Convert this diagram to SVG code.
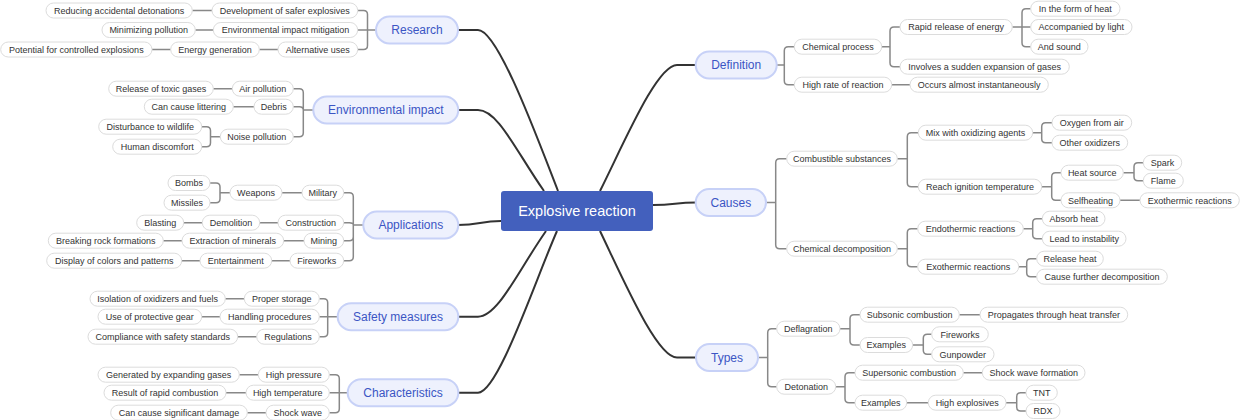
<svg xmlns="http://www.w3.org/2000/svg" width="1240" height="420" viewBox="0 0 1240 420">
<style>
.n rect{fill:#fff;stroke:#dcdcdc;stroke-width:1}
.n text{font-family:"Liberation Sans",Arial,sans-serif;font-size:9px;fill:#333;text-anchor:middle}
.m rect{fill:#eef1fd;stroke:#c7d1f7;stroke-width:2}
.m text{font-family:"Liberation Sans",Arial,sans-serif;font-size:12px;fill:#3b55c4;text-anchor:middle}
.c rect{fill:#4360bd}
.c text{font-family:"Liberation Sans",Arial,sans-serif;font-size:14.5px;fill:#fff;text-anchor:middle}
.main{fill:none;stroke:#333;stroke-width:2}
.sub{fill:none;stroke:#888;stroke-width:1.5}
</style>
<g id="connectors">
<path class="main" d="M458,30 H478 C498,30 538,140 558,191"/>
<path class="main" d="M458,110 H478 C498,110 516,151 544,191"/>
<path class="main" d="M458,225 C480,225 480,221 501,221"/>
<path class="main" d="M458,316.7 H478 C498,316.7 518,271 546,231"/>
<path class="main" d="M458,392.7 H478 C498,392.7 535,281 557,231"/>
<path class="main" d="M696,65 H677 C657,65 625,141 600,191"/>
<path class="main" d="M653,205 C675,205 675,202.5 696,202.5"/>
<path class="main" d="M600,231 C624,281 657,357.5 677,357.5 H696"/>
<path class="sub" d="M376,30 H357.7 M367.5,30 V14.5 Q367.5,10.5 363.5,10.5 H357.7 M367.5,30 V45.5 Q367.5,49.5 363.5,49.5 H357.7 M192.3,10.5 H212 M195.3,30 H213.3 M259.3,49.5 H278 M152,49.5 H170.7"/>
<path class="sub" d="M313.3,110 H303.3 V92.7 Q303.3,88.7 299.3,88.7 H293.3 M303.3,110 Q303.3,106.7 299.3,106.7 H293.3 M303.3,110 V132.7 Q303.3,136.7 299.3,136.7 H293.3 M220.3,136.7 H210.5 M210.5,136.7 V130.7 Q210.5,126.7 206.5,126.7 H201.7 M210.5,136.7 V142.7 Q210.5,146.7 206.5,146.7 H201.7 M213.3,88.7 H232.3 M233.3,106.7 H254"/>
<path class="sub" d="M363.3,225 H353.3 V196.7 Q353.3,192.7 349.3,192.7 H343.7 M353.3,225 Q353.3,222.7 349.3,222.7 H343.7 M353.3,225 V236.7 Q353.3,240.7 349.3,240.7 H343.7 M353.3,225 V256.7 Q353.3,260.7 349.3,260.7 H343.7 M230,192.7 H220 V187 Q220,183 216,183 H210 M220,192.7 V198.7 Q220,202.7 216,202.7 H210 M282,192.7 H302 M259.7,222.7 H278 M183.7,222.7 H202.3 M283.7,240.7 H304 M163.3,240.7 H182 M271.7,260.7 H290 M181.7,260.7 H200"/>
<path class="sub" d="M337.7,316.7 H319.3 M327.7,316.7 V302.7 Q327.7,298.7 323.7,298.7 H319.3 M327.7,316.7 V332.7 Q327.7,336.7 323.7,336.7 H319.3 M225.3,298.7 H244.3 M201.7,316.7 H220 M237.7,336.7 H256.7"/>
<path class="sub" d="M347.7,392.7 H329.3 M339.3,392.7 V378.7 Q339.3,374.7 335.3,374.7 H329.3 M339.3,392.7 V408.7 Q339.3,412.7 335.3,412.7 H329.3 M239.3,374.7 H258.3 M226,392.7 H246 M247.3,412.7 H266"/>
<path class="sub" d="M776.7,65 H784.3 V50.7 Q784.3,46.7 788.3,46.7 H794.3 M784.3,65 V80.7 Q784.3,84.7 788.3,84.7 H794.3 M881.7,46.7 H890 V31 Q890,27 894,27 H900 M890,46.7 V62.7 Q890,66.7 894,66.7 H900 M1012.3,27 H1030.7 M1022,27 V12.7 Q1022,8.7 1026,8.7 H1030.7 M1022,27 V42.7 Q1022,46.7 1026,46.7 H1030.7 M891.7,84.7 H910"/>
<path class="sub" d="M766,202.5 H775.7 V162.7 Q775.7,158.7 779.7,158.7 H786.7 M775.7,202.5 V244.7 Q775.7,248.7 779.7,248.7 H786.7 M897.3,158.7 H907.3 V136.7 Q907.3,132.7 911.3,132.7 H918.3 M907.3,158.7 V182.7 Q907.3,186.7 911.3,186.7 H918.3 M1032.7,132.7 H1041.7 V126.7 Q1041.7,122.7 1045.7,122.7 H1052 M1041.7,132.7 V138.7 Q1041.7,142.7 1045.7,142.7 H1052 M1041.7,186.7 H1051.7 V176.7 Q1051.7,172.7 1055.7,172.7 H1061 M1051.7,186.7 V196.3 Q1051.7,200.3 1055.7,200.3 H1061 M1123.3,172.7 H1134 V166.7 Q1134,162.7 1138,162.7 H1143.3 M1134,172.7 V176.7 Q1134,180.7 1138,180.7 H1143.3 M1120,200.3 H1140 M897.3,248.7 H907.3 V232.7 Q907.3,228.7 911.3,228.7 H917.7 M907.3,248.7 V262.7 Q907.3,266.7 911.3,266.7 H917.7 M1023.3,228.7 H1032.7 V222.7 Q1032.7,218.7 1036.7,218.7 H1042.3 M1032.7,228.7 V234.7 Q1032.7,238.7 1036.7,238.7 H1042.3 M1018.7,266.7 H1026.7 V262.7 Q1026.7,258.7 1030.7,258.7 H1036.7 M1026.7,266.7 V272.7 Q1026.7,276.7 1030.7,276.7 H1036.7"/>
<path class="sub" d="M758,357.5 H767.7 V332.7 Q767.7,328.7 771.7,328.7 H776.7 M767.7,357.5 V382.7 Q767.7,386.7 771.7,386.7 H776.7 M840,328.7 H850 V318.7 Q850,314.7 854,314.7 H860 M850,328.7 V341 Q850,345 854,345 H860 M959.3,314.7 H980 M912.7,345 H923.3 V338.3 Q923.3,334.3 927.3,334.3 H931.7 M923.3,345 V350.3 Q923.3,354.3 927.3,354.3 H931.7 M835.7,386.7 H845 V376.7 Q845,372.7 849,372.7 H855 M845,386.7 V398.7 Q845,402.7 849,402.7 H855 M963.3,372.7 H982.3 M906.7,402.7 H928.3 M1006,402.7 H1016.7 V396.7 Q1016.7,392.7 1020.7,392.7 H1026 M1016.7,402.7 V407 Q1016.7,411 1020.7,411 H1026"/>
</g>
<g id="center" class="c"><rect x="501" y="191" width="152" height="40" rx="3"/><text x="577" y="216">Explosive reaction</text></g>
<g id="research" class="m"><rect x="376" y="16.5" width="82" height="27" rx="13.5"/><text x="417" y="34.2">Research</text></g>
<g id="env" class="m"><rect x="313.3" y="96.5" width="145" height="27" rx="13.5"/><text x="385.8" y="114.2">Environmental impact</text></g>
<g id="applications" class="m"><rect x="363.3" y="211.5" width="95" height="27" rx="13.5"/><text x="410.8" y="229.2">Applications</text></g>
<g id="safety" class="m"><rect x="337.7" y="303.2" width="120.6" height="27" rx="13.5"/><text x="398" y="320.9">Safety measures</text></g>
<g id="characteristics" class="m"><rect x="347.7" y="379.2" width="110.6" height="27" rx="13.5"/><text x="403" y="396.9">Characteristics</text></g>
<g id="definition" class="m"><rect x="695.7" y="51.5" width="81" height="27" rx="13.5"/><text x="736.2" y="69.2">Definition</text></g>
<g id="causes" class="m"><rect x="695.7" y="189" width="70.3" height="27" rx="13.5"/><text x="730.85" y="206.7">Causes</text></g>
<g id="types" class="m"><rect x="696" y="344" width="62" height="27" rx="13.5"/><text x="727" y="361.7">Types</text></g>
<g id="r1" class="n"><rect x="212" y="3" width="145.7" height="15" rx="7.5"/><text x="284.85" y="13.7">Development of safer explosives</text></g>
<g id="r1a" class="n"><rect x="46" y="3" width="146.3" height="15" rx="7.5"/><text x="119.15" y="13.7">Reducing accidental detonations</text></g>
<g id="r2" class="n"><rect x="213.3" y="22.5" width="144.4" height="15" rx="7.5"/><text x="285.5" y="33.2">Environmental impact mitigation</text></g>
<g id="r2a" class="n"><rect x="102" y="22.5" width="93.3" height="15" rx="7.5"/><text x="148.65" y="33.2">Minimizing pollution</text></g>
<g id="r3" class="n"><rect x="278" y="42" width="79.7" height="15" rx="7.5"/><text x="317.85" y="52.7">Alternative uses</text></g>
<g id="r3a" class="n"><rect x="170.7" y="42" width="88.6" height="15" rx="7.5"/><text x="215" y="52.7">Energy generation</text></g>
<g id="r3b" class="n"><rect x="0.7" y="42" width="151.3" height="15" rx="7.5"/><text x="76.35" y="52.7">Potential for controlled explosions</text></g>
<g id="e1" class="n"><rect x="232.3" y="81.2" width="61" height="15" rx="7.5"/><text x="262.8" y="91.9">Air pollution</text></g>
<g id="e1a" class="n"><rect x="108.7" y="81.2" width="104.6" height="15" rx="7.5"/><text x="161" y="91.9">Release of toxic gases</text></g>
<g id="e2" class="n"><rect x="254" y="99.2" width="39.3" height="15" rx="7.5"/><text x="273.65" y="109.9">Debris</text></g>
<g id="e2a" class="n"><rect x="144.3" y="99.2" width="89" height="15" rx="7.5"/><text x="188.8" y="109.9">Can cause littering</text></g>
<g id="e3" class="n"><rect x="220.3" y="129.2" width="73" height="15" rx="7.5"/><text x="256.8" y="139.9">Noise pollution</text></g>
<g id="e3a" class="n"><rect x="98.7" y="119.2" width="103" height="15" rx="7.5"/><text x="150.2" y="129.9">Disturbance to wildlife</text></g>
<g id="e3b" class="n"><rect x="112.7" y="139.2" width="89" height="15" rx="7.5"/><text x="157.2" y="149.9">Human discomfort</text></g>
<g id="a1" class="n"><rect x="302" y="185.2" width="41.7" height="15" rx="7.5"/><text x="322.85" y="195.9">Military</text></g>
<g id="a1a" class="n"><rect x="230" y="185.2" width="52" height="15" rx="7.5"/><text x="256" y="195.9">Weapons</text></g>
<g id="a1b" class="n"><rect x="168" y="175.5" width="42" height="15" rx="7.5"/><text x="189" y="186.2">Bombs</text></g>
<g id="a1c" class="n"><rect x="164" y="195.2" width="46" height="15" rx="7.5"/><text x="187" y="205.9">Missiles</text></g>
<g id="a2" class="n"><rect x="278" y="215.2" width="65.7" height="15" rx="7.5"/><text x="310.85" y="225.9">Construction</text></g>
<g id="a2a" class="n"><rect x="202.3" y="215.2" width="57.4" height="15" rx="7.5"/><text x="231" y="225.9">Demolition</text></g>
<g id="a2b" class="n"><rect x="136.7" y="215.2" width="47" height="15" rx="7.5"/><text x="160.2" y="225.9">Blasting</text></g>
<g id="a3" class="n"><rect x="304" y="233.2" width="39.7" height="15" rx="7.5"/><text x="323.85" y="243.9">Mining</text></g>
<g id="a3a" class="n"><rect x="182" y="233.2" width="101.7" height="15" rx="7.5"/><text x="232.85" y="243.9">Extraction of minerals</text></g>
<g id="a3b" class="n"><rect x="48.3" y="233.2" width="115" height="15" rx="7.5"/><text x="105.8" y="243.9">Breaking rock formations</text></g>
<g id="a4" class="n"><rect x="290" y="253.2" width="53.7" height="15" rx="7.5"/><text x="316.85" y="263.9">Fireworks</text></g>
<g id="a4a" class="n"><rect x="200" y="253.2" width="71.7" height="15" rx="7.5"/><text x="235.85" y="263.9">Entertainment</text></g>
<g id="a4b" class="n"><rect x="46.7" y="253.2" width="135" height="15" rx="7.5"/><text x="114.2" y="263.9">Display of colors and patterns</text></g>
<g id="s1" class="n"><rect x="244.3" y="291.2" width="75" height="15" rx="7.5"/><text x="281.8" y="301.9">Proper storage</text></g>
<g id="s1a" class="n"><rect x="90" y="291.2" width="135.3" height="15" rx="7.5"/><text x="157.65" y="301.9">Isolation of oxidizers and fuels</text></g>
<g id="s2" class="n"><rect x="220" y="309.2" width="99.3" height="15" rx="7.5"/><text x="269.65" y="319.9">Handling procedures</text></g>
<g id="s2a" class="n"><rect x="98" y="309.2" width="103.7" height="15" rx="7.5"/><text x="149.85" y="319.9">Use of protective gear</text></g>
<g id="s3" class="n"><rect x="256.7" y="329.2" width="62.6" height="15" rx="7.5"/><text x="288" y="339.9">Regulations</text></g>
<g id="s3a" class="n"><rect x="88" y="329.2" width="149.7" height="15" rx="7.5"/><text x="162.85" y="339.9">Compliance with safety standards</text></g>
<g id="c1" class="n"><rect x="258.3" y="367.2" width="71" height="15" rx="7.5"/><text x="293.8" y="377.9">High pressure</text></g>
<g id="c1a" class="n"><rect x="98" y="367.2" width="141.3" height="15" rx="7.5"/><text x="168.65" y="377.9">Generated by expanding gases</text></g>
<g id="c2" class="n"><rect x="246" y="385.2" width="83.3" height="15" rx="7.5"/><text x="287.65" y="395.9">High temperature</text></g>
<g id="c2a" class="n"><rect x="104" y="385.2" width="122" height="15" rx="7.5"/><text x="165" y="395.9">Result of rapid combustion</text></g>
<g id="c3" class="n"><rect x="266" y="405.2" width="63.3" height="15" rx="7.5"/><text x="297.65" y="415.9">Shock wave</text></g>
<g id="c3a" class="n"><rect x="110.7" y="405.2" width="136.6" height="15" rx="7.5"/><text x="179" y="415.9">Can cause significant damage</text></g>
<g id="d1" class="n"><rect x="794.3" y="39.2" width="87.4" height="15" rx="7.5"/><text x="838" y="49.9">Chemical process</text></g>
<g id="d1a" class="n"><rect x="900" y="19.5" width="112.3" height="15" rx="7.5"/><text x="956.15" y="30.2">Rapid release of energy</text></g>
<g id="d1a1" class="n"><rect x="1030.7" y="1.2" width="89.3" height="15" rx="7.5"/><text x="1075.35" y="11.9">In the form of heat</text></g>
<g id="d1a2" class="n"><rect x="1030.7" y="19.5" width="101.3" height="15" rx="7.5"/><text x="1081.35" y="30.2">Accompanied by light</text></g>
<g id="d1a3" class="n"><rect x="1030.7" y="39.2" width="57.3" height="15" rx="7.5"/><text x="1059.35" y="49.9">And sound</text></g>
<g id="d1b" class="n"><rect x="900" y="59.2" width="169.3" height="15" rx="7.5"/><text x="984.65" y="69.9">Involves a sudden expansion of gases</text></g>
<g id="d2" class="n"><rect x="794.3" y="77.2" width="97.4" height="15" rx="7.5"/><text x="843" y="87.9">High rate of reaction</text></g>
<g id="d2a" class="n"><rect x="910" y="77.2" width="138.3" height="15" rx="7.5"/><text x="979.15" y="87.9">Occurs almost instantaneously</text></g>
<g id="cs" class="n"><rect x="786.7" y="151.2" width="110.6" height="15" rx="7.5"/><text x="842" y="161.9">Combustible substances</text></g>
<g id="cs1" class="n"><rect x="918.3" y="125.2" width="114.4" height="15" rx="7.5"/><text x="975.5" y="135.9">Mix with oxidizing agents</text></g>
<g id="cs1a" class="n"><rect x="1052" y="115.2" width="79.7" height="15" rx="7.5"/><text x="1091.85" y="125.9">Oxygen from air</text></g>
<g id="cs1b" class="n"><rect x="1052" y="135.2" width="75.7" height="15" rx="7.5"/><text x="1089.85" y="145.9">Other oxidizers</text></g>
<g id="cs2" class="n"><rect x="918.3" y="179.2" width="123.4" height="15" rx="7.5"/><text x="980" y="189.9">Reach ignition temperature</text></g>
<g id="cs2a" class="n"><rect x="1061" y="165.2" width="62.3" height="15" rx="7.5"/><text x="1092.15" y="175.9">Heat source</text></g>
<g id="cs2a1" class="n"><rect x="1143.3" y="155.2" width="38.4" height="15" rx="7.5"/><text x="1162.5" y="165.9">Spark</text></g>
<g id="cs2a2" class="n"><rect x="1143.3" y="173.2" width="40" height="15" rx="7.5"/><text x="1163.3" y="183.9">Flame</text></g>
<g id="cs2b" class="n"><rect x="1061" y="192.8" width="59" height="15" rx="7.5"/><text x="1090.5" y="203.5">Selfheating</text></g>
<g id="cs2b1" class="n"><rect x="1140" y="192.8" width="99.3" height="15" rx="7.5"/><text x="1189.65" y="203.5">Exothermic reactions</text></g>
<g id="cd" class="n"><rect x="786.7" y="241.2" width="110.6" height="15" rx="7.5"/><text x="842" y="251.9">Chemical decomposition</text></g>
<g id="cd1" class="n"><rect x="917.7" y="221.2" width="105.6" height="15" rx="7.5"/><text x="970.5" y="231.9">Endothermic reactions</text></g>
<g id="cd1a" class="n"><rect x="1042.3" y="211.2" width="62.7" height="15" rx="7.5"/><text x="1073.65" y="221.9">Absorb heat</text></g>
<g id="cd1b" class="n"><rect x="1042.3" y="231.2" width="83.7" height="15" rx="7.5"/><text x="1084.15" y="241.9">Lead to instability</text></g>
<g id="cd2" class="n"><rect x="917.7" y="259.2" width="101" height="15" rx="7.5"/><text x="968.2" y="269.9">Exothermic reactions</text></g>
<g id="cd2a" class="n"><rect x="1036.7" y="251.2" width="66.6" height="15" rx="7.5"/><text x="1070" y="261.9">Release heat</text></g>
<g id="cd2b" class="n"><rect x="1036.7" y="269.2" width="130.6" height="15" rx="7.5"/><text x="1102" y="279.9">Cause further decomposition</text></g>
<g id="t1" class="n"><rect x="776.7" y="321.2" width="63.3" height="15" rx="7.5"/><text x="808.35" y="331.9">Deflagration</text></g>
<g id="t1a" class="n"><rect x="860" y="307.2" width="99.3" height="15" rx="7.5"/><text x="909.65" y="317.9">Subsonic combustion</text></g>
<g id="t1a1" class="n"><rect x="980" y="307.2" width="147.7" height="15" rx="7.5"/><text x="1053.85" y="317.9">Propagates through heat transfer</text></g>
<g id="t1b" class="n"><rect x="860" y="337.5" width="52.7" height="15" rx="7.5"/><text x="886.35" y="348.2">Examples</text></g>
<g id="t1b1" class="n"><rect x="931.7" y="326.8" width="56.6" height="15" rx="7.5"/><text x="960" y="337.5">Fireworks</text></g>
<g id="t1b2" class="n"><rect x="931.7" y="346.8" width="62.3" height="15" rx="7.5"/><text x="962.85" y="357.5">Gunpowder</text></g>
<g id="t2" class="n"><rect x="776.7" y="379.2" width="59" height="15" rx="7.5"/><text x="806.2" y="389.9">Detonation</text></g>
<g id="t2a" class="n"><rect x="855" y="365.2" width="108.3" height="15" rx="7.5"/><text x="909.15" y="375.9">Supersonic combustion</text></g>
<g id="t2a1" class="n"><rect x="982.3" y="365.2" width="102.7" height="15" rx="7.5"/><text x="1033.65" y="375.9">Shock wave formation</text></g>
<g id="t2b" class="n"><rect x="855" y="395.2" width="51.7" height="15" rx="7.5"/><text x="880.85" y="405.9">Examples</text></g>
<g id="t2b1" class="n"><rect x="928.3" y="395.2" width="77.7" height="15" rx="7.5"/><text x="967.15" y="405.9">High explosives</text></g>
<g id="t2b1a" class="n"><rect x="1026" y="385.2" width="31.3" height="15" rx="7.5"/><text x="1041.65" y="395.9">TNT</text></g>
<g id="t2b1b" class="n"><rect x="1026" y="403.5" width="34" height="15" rx="7.5"/><text x="1043" y="414.2">RDX</text></g>
</svg>
